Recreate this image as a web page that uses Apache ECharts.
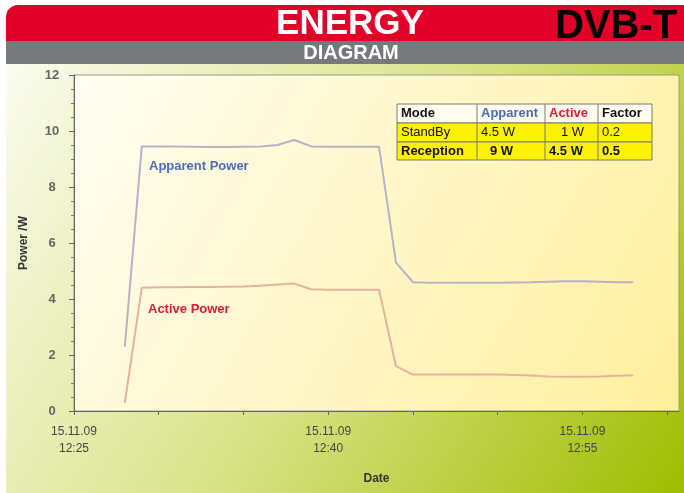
<!DOCTYPE html>
<html>
<head>
<meta charset="utf-8">
<script src="https://cdn.jsdelivr.net/npm/echarts@6/dist/echarts.min.js"></script>
<style>
  html, body { margin: 0; padding: 0; background: #fff; }
  #chart { width: 684px; height: 493px; }
</style>
</head>
<body>
<div id="chart"></div>
<script>
// sample times (one per minute)
const times = ['12:28', '12:29', '12:30', '12:31', '12:32', '12:33', '12:34', '12:35',
  '12:36', '12:37', '12:38', '12:39', '12:40', '12:41', '12:42', '12:43', '12:44', '12:45',
  '12:46', '12:47', '12:48', '12:49', '12:50', '12:51', '12:52', '12:53', '12:54', '12:55',
  '12:56', '12:57', '12:58'];
// apparent power in W
const apparent = [2.3, 9.45, 9.45, 9.45, 9.44, 9.43, 9.43, 9.44, 9.45, 9.5, 9.68, 9.45,
  9.44, 9.44, 9.44, 9.44, 5.3, 4.6, 4.58, 4.58, 4.58, 4.58, 4.58, 4.59, 4.6, 4.62, 4.63,
  4.63, 4.62, 4.6, 4.6];
// active power in W
const active = [0.3, 4.4, 4.42, 4.42, 4.43, 4.43, 4.44, 4.45, 4.47, 4.52, 4.55, 4.35,
  4.33, 4.33, 4.33, 4.33, 1.6, 1.3, 1.3, 1.3, 1.3, 1.3, 1.3, 1.29, 1.27, 1.23, 1.22,
  1.22, 1.23, 1.26, 1.28];
const dateLabel = '15.11.09';
const startTime = '12:25';

// table in the top right corner
const tableHead = ['Mode', 'Apparent', 'Active', 'Factor'];
const tableRows = [
  ['StandBy', '4.5 W', '1 W', '0.2'],
  ['Reception', '9 W', '4.5 W', '0.5']
];

function toMin(s) {
  const p = s.split(':');
  return (+p[0]) * 60 + (+p[1]);
}
const t0 = toMin(startTime);
function fmt(m) {
  const h = Math.floor(m / 60), mm = m % 60;
  return h + ':' + (mm < 10 ? '0' : '') + mm;
}

const apparentData = times.map((t, i) => [toMin(t) - t0, apparent[i]]);
const activeData = times.map((t, i) => [toMin(t) - t0, active[i]]);

const FONT = 'Liberation Sans, Arial, sans-serif';

// table graphic
const colX = [397, 477, 545, 598, 652];
const rowY = [104, 123, 142, 160];
const table = [];
for (let r = 0; r < 3; r++) {
  table.push({
    type: 'rect',
    shape: { x: colX[0], y: rowY[r], width: colX[4] - colX[0], height: rowY[r + 1] - rowY[r] },
    style: { fill: r === 0 ? '#fffdf0' : '#fff200', stroke: '#7a7a6a', lineWidth: 1 }
  });
}
for (let c = 1; c < 4; c++) {
  table.push({
    type: 'line',
    shape: { x1: colX[c], y1: rowY[0], x2: colX[c], y2: rowY[3] },
    style: { stroke: '#7a7a6a', lineWidth: 1 }
  });
}
const headColors = ['#111', '#4a6cb0', '#e3173a', '#111'];
tableHead.forEach((h, c) => {
  table.push({
    type: 'text',
    style: { text: h, x: colX[c] + 4, y: (rowY[0] + rowY[1]) / 2, verticalAlign: 'middle',
      font: 'bold 13px ' + FONT, fill: headColors[c] }
  });
});
tableRows.forEach((row, r) => {
  const bold = r === 1;
  const y = (rowY[r + 1] + rowY[r + 2]) / 2;
  row.forEach((v, c) => {
    let x = colX[c] + 4, align = 'left';
    if (r === 0 && c === 2) { x = colX[3] - 14; align = 'right'; }
    if (r === 1 && c === 1) { x = colX[1] + 13; }
    table.push({
      type: 'text',
      style: { text: v, x: x, y: y, align: align, verticalAlign: 'middle',
        font: (bold ? 'bold ' : '') + '13px ' + FONT, fill: '#111' }
    });
  });
});

const chart = echarts.init(document.getElementById('chart'));

const option = {
  animation: false,
  backgroundColor: '#fff',
  graphic: [
    {
      type: 'rect', z: -10, silent: true,
      shape: { x: 6, y: 63, width: 678, height: 430 },
      style: {
        fill: new echarts.graphic.LinearGradient(0, 0, 1, 1, [
          { offset: 0, color: '#fbfcef' },
          { offset: 0.5, color: '#d8e387' },
          { offset: 1, color: '#9fbd00' }
        ])
      }
    },
    {
      type: 'rect',
      shape: { x: 6, y: 5, width: 678, height: 37, r: [12, 0, 0, 0] },
      style: { fill: '#e10028' }
    },
    {
      type: 'rect',
      shape: { x: 6, y: 41, width: 678, height: 23 },
      style: { fill: '#77787b' }
    },
    {
      type: 'text',
      style: { text: 'ENERGY', x: 350, y: 24, align: 'center', verticalAlign: 'middle',
        font: 'bold 35px ' + FONT, fill: '#fff' }
    },
    {
      type: 'text',
      style: { text: 'DIAGRAM', x: 351, y: 53, align: 'center', verticalAlign: 'middle',
        font: 'bold 20px ' + FONT, fill: '#fff' }
    },
    {
      type: 'text', z: 10,
      style: { text: 'DVB-T', x: 616, y: 27, align: 'center', verticalAlign: 'middle',
        font: 'bold 40px ' + FONT, fill: '#000' }
    },
    {
      type: 'text',
      style: { text: 'Apparent Power', x: 149, y: 166, verticalAlign: 'middle',
        font: 'bold 13px ' + FONT, fill: '#4a6cb0' }
    },
    {
      type: 'text',
      style: { text: 'Active Power', x: 148, y: 309, verticalAlign: 'middle',
        font: 'bold 13px ' + FONT, fill: '#e3173a' }
    },
    { type: 'group', children: table }
  ],
  grid: {
    left: 74, top: 75, right: 5, bottom: 82,
    show: true,
    borderColor: '#9a9a8a',
    borderWidth: 1,
    backgroundColor: new echarts.graphic.LinearGradient(0, 0, 1, 1, [
      { offset: 0, color: '#fffef3' },
      { offset: 1, color: '#ffef9c' }
    ])
  },
  xAxis: {
    type: 'value',
    min: 0,
    max: 35.7,
    interval: 5,
    name: 'Date',
    nameLocation: 'middle',
    nameGap: 62,
    nameTextStyle: { fontFamily: FONT, fontWeight: 'bold', fontSize: 12, color: '#333' },
    axisLine: { lineStyle: { color: '#666', width: 1 } },
    axisTick: { length: 4, lineStyle: { color: '#666' } },
    splitLine: { show: false },
    axisLabel: {
      margin: 12,
      fontFamily: FONT,
      fontSize: 12,
      lineHeight: 17,
      color: '#444',
      showMaxLabel: false,
      formatter: function (v) {
        if (v % 15 !== 0) return '';
        return dateLabel + '\n' + fmt(t0 + v);
      }
    }
  },
  yAxis: {
    type: 'value',
    min: 0,
    max: 12,
    interval: 2,
    name: 'Power /W',
    nameLocation: 'middle',
    nameGap: 44,
    nameTextStyle: { fontFamily: FONT, fontWeight: 'bold', fontSize: 12, color: '#333' },
    axisLine: { show: true, lineStyle: { color: '#666', width: 1 } },
    axisTick: { show: true, length: 5, lineStyle: { color: '#666' } },
    minorTick: { show: true, splitNumber: 4, length: 3, lineStyle: { color: '#777' } },
    splitLine: { show: false },
    axisLabel: {
      align: 'center',
      margin: 22,
      fontFamily: FONT,
      fontSize: 13,
      fontWeight: 'bold',
      color: '#666'
    }
  },
  series: [
    {
      name: 'Apparent Power',
      type: 'line',
      data: apparentData,
      showSymbol: false,
      lineStyle: { color: '#b8b2c6', width: 2 }
    },
    {
      name: 'Active Power',
      type: 'line',
      data: activeData,
      showSymbol: false,
      lineStyle: { color: '#e6b39c', width: 2 }
    }
  ]
};

chart.setOption(option);
</script>
</body>
</html>
